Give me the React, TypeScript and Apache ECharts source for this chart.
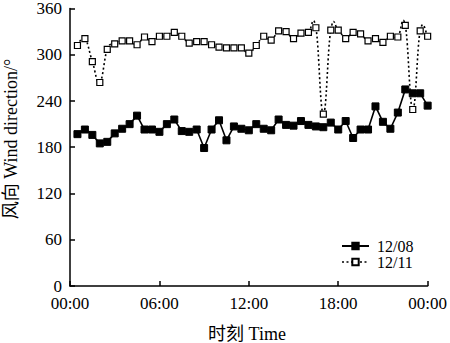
import React, { useEffect, useRef } from "react";
import * as echarts from "echarts";

const hours = [
  0.5, 1, 1.5, 2, 2.5, 3, 3.5, 4, 4.5, 5, 5.5, 6,
  6.5, 7, 7.5, 8, 8.5, 9, 9.5, 10, 10.5, 11, 11.5, 12,
  12.5, 13, 13.5, 14, 14.5, 15, 15.5, 16, 16.5, 17, 17.5, 18,
  18.5, 19, 19.5, 20, 20.5, 21, 21.5, 22, 22.5, 23, 23.5, 24,
];

const dir1208 = [
  197, 203, 196, 185, 187, 198, 204, 210, 221, 203, 203, 200,
  210, 216, 201, 200, 203, 179, 203, 215, 189, 207, 204, 202,
  210, 204, 202, 216, 209, 208, 214, 209, 207, 206, 212, 203,
  214, 192, 203, 203, 233, 213, 204, 225, 255, 250, 250, 234,
];

const dir1211 = [
  312, 321, 291, 264, 307, 314, 318, 318, 313, 323, 317, 324,
  324, 329, 324, 315, 317, 317, 313, 310, 309, 309, 309, 302,
  312, 324, 319, 331, 330, 321, 328, 329, 335, 223, 332, 332,
  321, 329, 327, 318, 321, 316, 324, 323, 338, 229, 331, 324,
];

const xTicks = ["00:00", "06:00", "12:00", "18:00", "00:00"];
const seriesNames = ["12/08", "12/11"];

const FONT = "'Liberation Serif', 'Times New Roman', 'Noto Sans CJK SC', serif";
const DOT: number[] = [2, 2.5];

export default function App() {
  const ref = useRef<HTMLDivElement>(null);
  useEffect(() => {
    if (!ref.current) return;
    const chart = echarts.init(ref.current, undefined, { renderer: "svg" });
    const axisLine = { show: true, lineStyle: { color: "#000", width: 1.5 } };
    const n = hours.length;
    const T = 0.22;
    chart.setOption({
      animation: false,
      backgroundColor: "#fff",
      textStyle: { fontFamily: FONT },
      grid: { left: 70, right: 21, top: 6, bottom: 57, containLabel: false },
      legend: {
        left: 341,
        top: 238,
        padding: 0,
        orient: "vertical",
        itemWidth: 27,
        itemHeight: 8,
        itemGap: 0,
        data: [
          { name: seriesNames[0] },
          {
            name: seriesNames[1],
            lineStyle: { color: "#000", width: 1.6, type: DOT, opacity: 1 },
          },
        ],
        textStyle: {
          fontFamily: FONT,
          fontSize: 16,
          color: "#000",
          lineHeight: 16,
          padding: [0, 0, 0, 3],
        },
      },
      xAxis: {
        type: "value",
        min: 0,
        max: 24,
        interval: 6,
        axisLine,
        axisTick: { show: true, inside: true, length: 5, lineStyle: { color: "#000", width: 1.5 } },
        splitLine: { show: false },
        axisLabel: {
          color: "#000",
          fontSize: 17,
          fontFamily: FONT,
          margin: 9,
          formatter: (v: number) => xTicks[Math.round(v / 6)] ?? "",
        },
      },
      yAxis: {
        type: "value",
        min: 0,
        max: 360,
        interval: 60,
        axisLine,
        axisTick: { show: true, inside: true, length: 5, lineStyle: { color: "#000", width: 1.5 } },
        splitLine: { show: false },
        axisLabel: { color: "#000", fontSize: 17, fontFamily: FONT, margin: 8 },
      },
      graphic: [
        {
          type: "text",
          x: 11,
          y: 139,
          rotation: Math.PI / 2,
          style: {
            text: "风向 Wind direction/°",
            fontFamily: FONT,
            fontSize: 18,
            fill: "#000",
            textAlign: "center",
            textVerticalAlign: "middle",
          },
        },
        {
          type: "text",
          x: 247,
          y: 334,
          style: {
            text: "时刻 Time",
            fontFamily: FONT,
            fontSize: 18,
            fill: "#000",
            textAlign: "center",
            textVerticalAlign: "middle",
          },
        },
      ],
      series: [
        {
          name: seriesNames[0],
          type: "line",
          data: hours.map((h, i) => [h, dir1208[i]]),
          symbol: "rect",
          symbolSize: 7,
          itemStyle: { color: "#000", borderColor: "#000", borderWidth: 1 },
          lineStyle: { color: "#000", width: 1.6, type: "solid" },
          z: 3,
        },
        {
          name: "12/11-curve",
          type: "custom",
          data: hours.map((h, i) => [h, dir1211[i]]),
          encode: { x: 0, y: 1 },
          z: 1,
          silent: true,
          renderItem: (params: any, api: any) => {
            const i = params.dataIndex;
            if (i >= n - 1) return { type: "group", children: [] };
            const c = (j: number) => {
              const k = Math.max(0, Math.min(n - 1, j));
              return api.coord([hours[k], dir1211[k]]);
            };
            const p0 = c(i - 1);
            const p1 = c(i);
            const p2 = c(i + 1);
            const p3 = c(i + 2);
            return {
              type: "bezierCurve",
              shape: {
                x1: p1[0],
                y1: p1[1],
                x2: p2[0],
                y2: p2[1],
                cpx1: p1[0] + (p2[0] - p0[0]) * T,
                cpy1: p1[1] + (p2[1] - p0[1]) * T,
                cpx2: p2[0] - (p3[0] - p1[0]) * T,
                cpy2: p2[1] - (p3[1] - p1[1]) * T,
              },
              style: { stroke: "#000", lineWidth: 1.6, lineDash: DOT, fill: "none" },
            };
          },
        },
        {
          name: seriesNames[1],
          type: "line",
          data: hours.map((h, i) => [h, dir1211[i]]),
          symbol: "rect",
          symbolSize: 6,
          itemStyle: { color: "#fff", borderColor: "#000", borderWidth: 1.2 },
          lineStyle: { color: "#000", width: 0, opacity: 0 },
          z: 2,
        },
      ],
    });
    return () => chart.dispose();
  }, []);
  return <div ref={ref} style={{ width: 450, height: 343, position: "absolute", left: 0, top: 0 }} />;
}
